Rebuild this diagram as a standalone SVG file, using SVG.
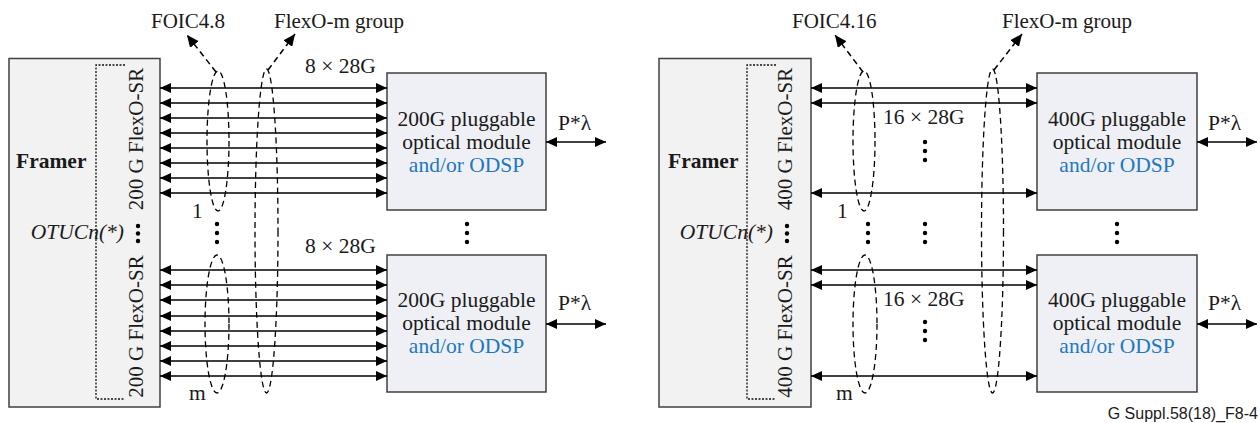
<svg xmlns="http://www.w3.org/2000/svg" width="1260" height="423" viewBox="0 0 1260 423">
<defs>
<marker id="ah" viewBox="0 0 11 10" refX="11" refY="5" markerWidth="11" markerHeight="10" markerUnits="userSpaceOnUse" orient="auto-start-reverse">
<path d="M0,0 L11,5 L0,10 z" fill="#000"/>
</marker>
<marker id="dh" viewBox="0 0 12 11" refX="12" refY="5.5" markerWidth="12" markerHeight="11" markerUnits="userSpaceOnUse" orient="auto">
<path d="M0,0 L12,5.5 L0,11 z" fill="#000"/>
</marker>
<style>
.framer{fill:#f2f2f2;stroke:#404040;stroke-width:1.5}
.mod{fill:#eef0f5;stroke:#404040;stroke-width:1.5}
.br{fill:none;stroke:#111;stroke-width:1.3;stroke-dasharray:2 1.5}
.ln{stroke:#000;stroke-width:1.5;fill:none;marker-start:url(#ah);marker-end:url(#ah)}
.el{fill:none;stroke:#000;stroke-width:1.3;stroke-dasharray:6 4}
.da{fill:none;stroke:#000;stroke-width:1.5;stroke-dasharray:6 4;marker-end:url(#dh)}
.t{font-family:"Liberation Serif","Times New Roman",serif;font-size:21.5px;fill:#1a1a1a}
.lb{font-family:"Liberation Serif","Times New Roman",serif;font-size:21px;fill:#1a1a1a}
.b{font-weight:bold}
.i{font-style:italic}
.c{text-anchor:middle}
.blue{fill:#1f78c1}
.dot{fill:#000}
</style>
</defs>

<!-- LEFT PANEL -->
<g id="framer-left">
<rect class="framer" x="9" y="58.5" width="151" height="348.5"/>
<path class="br" d="M125,65 H96 V399 H125"/>
<text class="t b" x="16" y="168">Framer</text>
<text class="t i" x="124" y="239" text-anchor="end">OTUCn(*)</text>
<text class="lb c" transform="translate(143,139) rotate(-90)">200 G FlexO-SR</text>
<text class="lb c" transform="translate(143,326.5) rotate(-90)">200 G FlexO-SR</text>
<circle class="dot" cx="138" cy="226" r="2.2"/>
<circle class="dot" cx="138" cy="233.5" r="2.2"/>
<circle class="dot" cx="138" cy="241" r="2.2"/>
</g>

<g id="module-left-1">
<rect class="mod" x="387" y="73" width="159" height="137"/>
<text class="t c" x="466.5" y="126">200G pluggable</text>
<text class="t c" x="466.5" y="149">optical module</text>
<text class="t c blue" x="466.5" y="172">and/or ODSP</text>
</g>
<g id="module-left-2">
<rect class="mod" x="387" y="255" width="159" height="137"/>
<text class="t c" x="466.5" y="307">200G pluggable</text>
<text class="t c" x="466.5" y="330">optical module</text>
<text class="t c blue" x="466.5" y="353">and/or ODSP</text>
</g>

<g id="labels-left">
<text class="lb" x="151" y="28">FOIC4.8</text>
<text class="lb" x="274" y="28">FlexO-m group</text>
<text class="t" x="305" y="73">8 × 28G</text>
<text class="t" x="305" y="253">8 × 28G</text>
<text class="t" x="192" y="218">1</text>
<text class="t" x="189" y="400">m</text>
<text class="t" x="558" y="130">P*λ</text>
<text class="t" x="558" y="310">P*λ</text>
<circle class="dot" cx="217" cy="224" r="2.2"/>
<circle class="dot" cx="217" cy="233" r="2.2"/>
<circle class="dot" cx="217" cy="242" r="2.2"/>
<circle class="dot" cx="467" cy="224" r="2.2"/>
<circle class="dot" cx="467" cy="233" r="2.2"/>
<circle class="dot" cx="467" cy="242" r="2.2"/>
</g>

<!-- RIGHT PANEL -->
<g id="framer-right">
<rect class="framer" x="659" y="58.5" width="152" height="348.5"/>
<path class="br" d="M776,65 H747 V399 H776"/>
<text class="t b" x="668" y="168">Framer</text>
<text class="t i" x="773" y="239" text-anchor="end">OTUCn(*)</text>
<text class="lb c" transform="translate(792,139) rotate(-90)">400 G FlexO-SR</text>
<text class="lb c" transform="translate(792,326.5) rotate(-90)">400 G FlexO-SR</text>
<circle class="dot" cx="787" cy="226" r="2.2"/>
<circle class="dot" cx="787" cy="233.5" r="2.2"/>
<circle class="dot" cx="787" cy="241" r="2.2"/>
</g>

<g id="module-right-1">
<rect class="mod" x="1037" y="73" width="160" height="137"/>
<text class="t c" x="1117" y="126">400G pluggable</text>
<text class="t c" x="1117" y="149">optical module</text>
<text class="t c blue" x="1117" y="172">and/or ODSP</text>
</g>
<g id="module-right-2">
<rect class="mod" x="1037" y="255" width="160" height="137"/>
<text class="t c" x="1117" y="307">400G pluggable</text>
<text class="t c" x="1117" y="330">optical module</text>
<text class="t c blue" x="1117" y="353">and/or ODSP</text>
</g>

<g id="labels-right">
<text class="lb" x="792" y="28">FOIC4.16</text>
<text class="lb" x="1002" y="28">FlexO-m group</text>
<text class="t" x="883" y="124">16 × 28G</text>
<text class="t" x="883" y="306">16 × 28G</text>
<text class="t" x="837" y="218">1</text>
<text class="t" x="836" y="400">m</text>
<text class="t" x="1208" y="130">P*λ</text>
<text class="t" x="1208" y="310">P*λ</text>
<circle class="dot" cx="925" cy="142" r="2.2"/>
<circle class="dot" cx="925" cy="151" r="2.2"/>
<circle class="dot" cx="925" cy="160" r="2.2"/>
<circle class="dot" cx="868" cy="224" r="2.2"/>
<circle class="dot" cx="868" cy="233" r="2.2"/>
<circle class="dot" cx="868" cy="242" r="2.2"/>
<circle class="dot" cx="925" cy="224" r="2.2"/>
<circle class="dot" cx="925" cy="233" r="2.2"/>
<circle class="dot" cx="925" cy="242" r="2.2"/>
<circle class="dot" cx="925" cy="322" r="2.2"/>
<circle class="dot" cx="925" cy="331" r="2.2"/>
<circle class="dot" cx="925" cy="340" r="2.2"/>
<circle class="dot" cx="1117" cy="224" r="2.2"/>
<circle class="dot" cx="1117" cy="233" r="2.2"/>
<circle class="dot" cx="1117" cy="242" r="2.2"/>
</g>

<g id="connectors">
<!-- left top group -->
<line class="ln" x1="160" y1="88" x2="387" y2="88"/>
<line class="ln" x1="160" y1="103" x2="387" y2="103"/>
<line class="ln" x1="160" y1="118" x2="387" y2="118"/>
<line class="ln" x1="160" y1="133" x2="387" y2="133"/>
<line class="ln" x1="160" y1="148" x2="387" y2="148"/>
<line class="ln" x1="160" y1="163" x2="387" y2="163"/>
<line class="ln" x1="160" y1="178" x2="387" y2="178"/>
<line class="ln" x1="160" y1="193" x2="387" y2="193"/>
<!-- left bottom group -->
<line class="ln" x1="160" y1="270" x2="387" y2="270"/>
<line class="ln" x1="160" y1="285" x2="387" y2="285"/>
<line class="ln" x1="160" y1="300" x2="387" y2="300"/>
<line class="ln" x1="160" y1="316" x2="387" y2="316"/>
<line class="ln" x1="160" y1="331" x2="387" y2="331"/>
<line class="ln" x1="160" y1="346" x2="387" y2="346"/>
<line class="ln" x1="160" y1="361" x2="387" y2="361"/>
<line class="ln" x1="160" y1="376" x2="387" y2="376"/>
<line class="ln" x1="546" y1="142" x2="606" y2="142"/>
<line class="ln" x1="546" y1="324" x2="606" y2="324"/>
<!-- left ellipses -->
<ellipse class="el" cx="218" cy="141" rx="11" ry="70"/>
<ellipse class="el" cx="217" cy="324" rx="12" ry="69"/>
<ellipse class="el" cx="266.5" cy="231" rx="11.5" ry="162"/>
<line class="da" x1="216" y1="72" x2="187" y2="35"/>
<line class="da" x1="268" y1="70" x2="295" y2="34"/>

<!-- right -->
<line class="ln" x1="811" y1="88" x2="1037" y2="88"/>
<line class="ln" x1="811" y1="103" x2="1037" y2="103"/>
<line class="ln" x1="811" y1="193" x2="1037" y2="193"/>
<line class="ln" x1="811" y1="270" x2="1037" y2="270"/>
<line class="ln" x1="811" y1="285" x2="1037" y2="285"/>
<line class="ln" x1="811" y1="376" x2="1037" y2="376"/>
<line class="ln" x1="1197" y1="142" x2="1257" y2="142"/>
<line class="ln" x1="1197" y1="324" x2="1257" y2="324"/>
<ellipse class="el" cx="864" cy="141" rx="11" ry="70"/>
<ellipse class="el" cx="865" cy="324" rx="12" ry="69"/>
<ellipse class="el" cx="992.5" cy="231" rx="11" ry="162"/>
<line class="da" x1="863" y1="72" x2="835" y2="35"/>
<line class="da" x1="994" y1="70" x2="1022" y2="34"/>
</g>

<text x="1258" y="419" text-anchor="end" style="font-family:'Liberation Sans',Arial,sans-serif;font-size:16px;fill:#1a1a1a">G Suppl.58(18)_F8-4</text>
</svg>
